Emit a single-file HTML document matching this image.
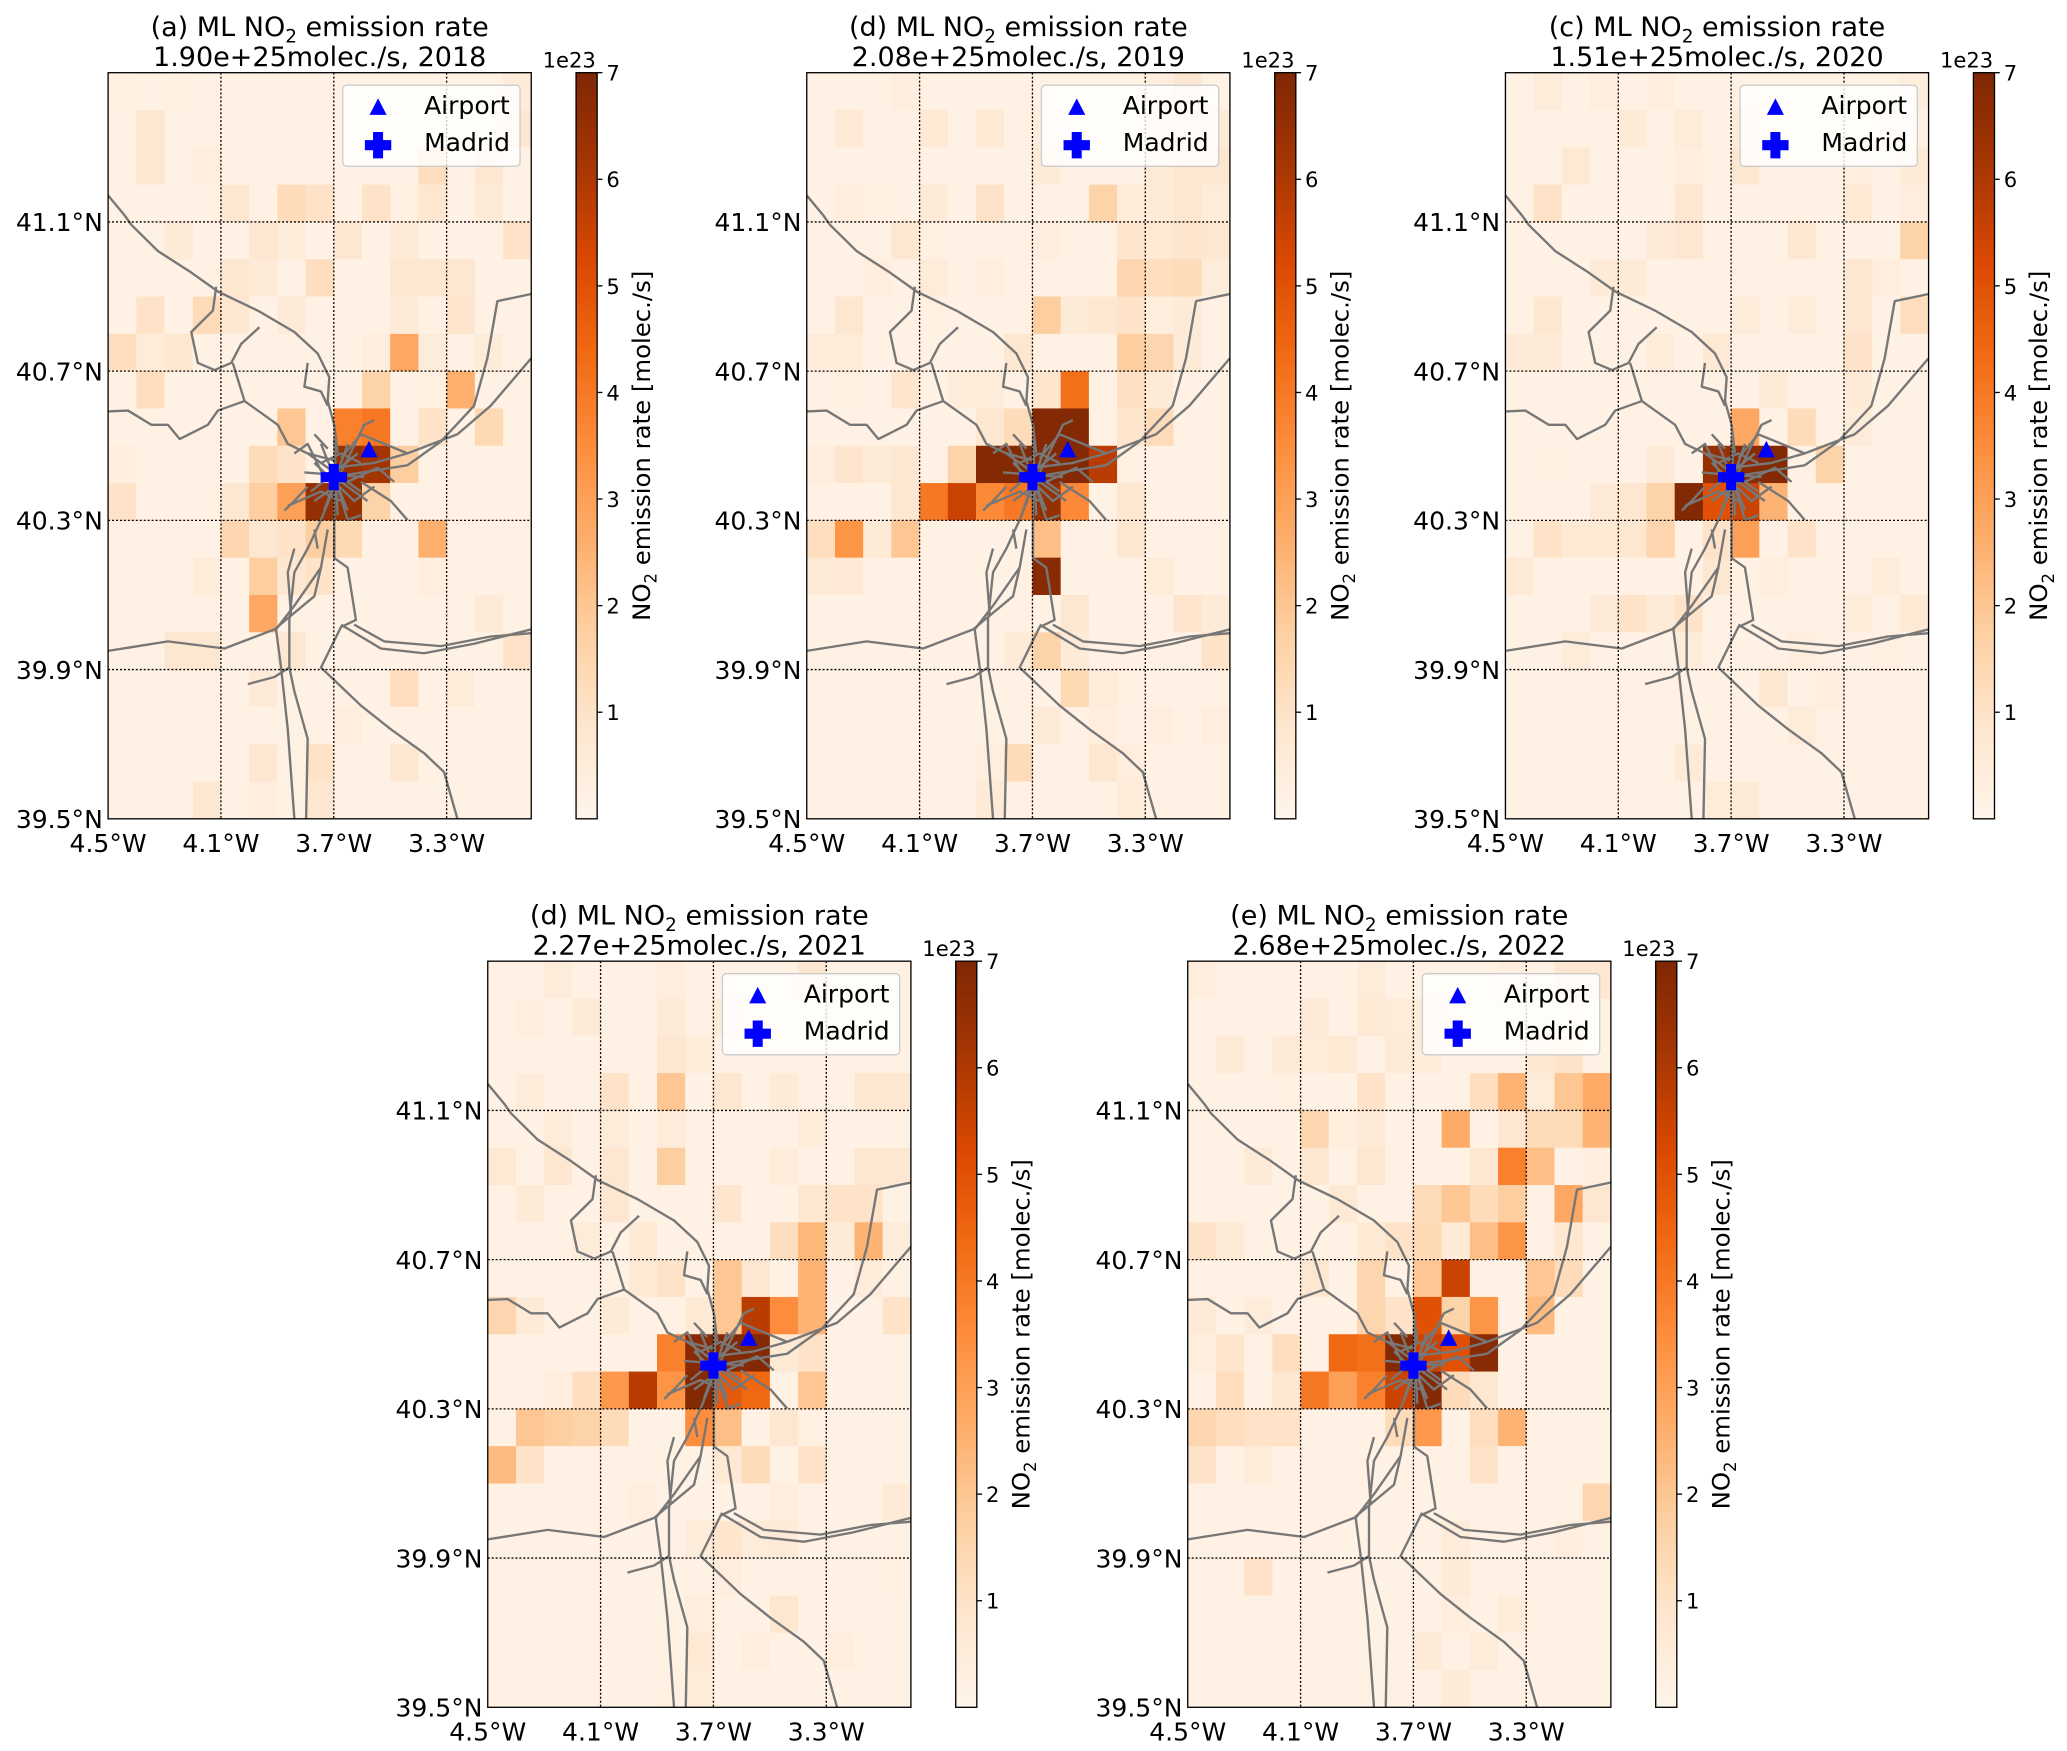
<!DOCTYPE html>
<html><head><meta charset="utf-8"><style>
html,body{margin:0;padding:0;background:#fff;}
svg{display:block;}
text{font-family:"DejaVu Sans","Liberation Sans",sans-serif;fill:#000;}
</style></head><body>
<svg id="fig" width="2067" height="1751" viewBox="0 0 1568 1328" xmlns="http://www.w3.org/2000/svg">
<defs>
<linearGradient id="cbgrad" x1="0" y1="1" x2="0" y2="0">
<stop offset="0" stop-color="#fff5eb"/><stop offset="0.125" stop-color="#fee6ce"/><stop offset="0.25" stop-color="#fdd0a2"/><stop offset="0.375" stop-color="#fdae6b"/><stop offset="0.5" stop-color="#fd8d3c"/><stop offset="0.625" stop-color="#f16913"/><stop offset="0.75" stop-color="#d94801"/><stop offset="0.875" stop-color="#a63603"/><stop offset="1" stop-color="#7f2704"/>
</linearGradient>
</defs>
</svg>
<script>
const panelTitles = ["(a)", "(d)", "(c)", "(d)", "(e)"];
const panelTotals = ["1.90e+25", "2.08e+25", "1.51e+25", "2.27e+25", "2.68e+25"];
const panelYears = ["2018", "2019", "2020", "2021", "2022"];
const lonTicks = [-4.5, -4.1, -3.7, -3.3];
const lonTickLabels = ["4.5°W", "4.1°W", "3.7°W", "3.3°W"];
const latTicks = [39.5, 39.9, 40.3, 40.7, 41.1];
const latTickLabels = ["39.5°N", "39.9°N", "40.3°N", "40.7°N", "41.1°N"];
const cbTicks = [1, 2, 3, 4, 5, 6, 7];
const cbTickLabels = ["1", "2", "3", "4", "5", "6", "7"];
const airport = [-3.575, 40.49];
const madrid = [-3.70, 40.416];

const grid2018 = [
[.3,.2,.3,.2,.2,.2,.2,.2,.2,.2,.2,.2,.2,.2,.5],
[.2,.8,.2,.2,.2,.2,.2,.2,.2,.2,.2,.2,.2,.2,.8],
[.2,.8,.2,.4,.2,.2,.2,.2,.2,.2,.2,1.2,.2,.8,.2],
[.2,.2,.2,.2,.8,.2,1.3,1.0,.2,1.0,.3,.8,.2,.6,.2],
[.2,.2,.6,.2,.2,.8,.5,.2,.8,.2,.6,.2,.2,.2,1.0],
[.2,.2,.2,.2,.8,.6,.2,1.2,.2,.2,.8,.8,.8,.2,.2],
[.2,1.0,.2,1.3,.8,.2,.6,.2,.2,.2,.6,.2,.9,.2,.2],
[1.2,.5,.8,.2,.2,.2,.2,.2,.2,.4,2.8,.5,.2,.5,.2],
[.2,1.2,.2,.2,.2,.2,.2,.2,.2,1.6,.2,.3,2.6,.2,.2],
[.2,.2,.2,.2,.2,.2,2.0,.2,3.8,4.0,.2,1.0,.2,1.4,.2],
[.4,.2,.2,.2,.2,1.3,1.0,.2,6.5,6.2,1.8,.2,.2,.2,.2],
[1.0,.2,.2,.2,.8,1.8,3.0,6.5,6.5,1.6,.2,.2,.2,.2,.2],
[.2,.2,.2,.2,1.5,.8,1.0,1.8,1.4,.2,.2,2.6,.2,.2,.2],
[.2,.2,.2,.5,.2,1.8,.8,1.0,.2,.2,.2,.4,.2,.2,.2],
[.2,.2,.2,.2,.2,2.8,.2,.2,.2,.2,.2,.2,.2,.6,.2],
[.2,.2,.8,.8,.2,.2,.8,.2,.2,.2,.2,.2,.2,.2,1.0],
[.2,.2,.2,.2,.2,.6,.2,.2,.2,.2,1.2,.2,.5,.2,.2],
[.2,.2,.2,.2,.2,.2,.2,.2,.4,.2,.2,.2,.2,.2,.2],
[.2,.2,.2,.2,.2,.8,.2,1.0,.2,.2,.8,.2,.2,.2,.2],
[.2,.2,.2,.8,.2,.4,.2,.8,.2,.2,.2,.2,.2,.2,.2]];
const grid2019 = [
[.2,.2,.2,.4,.2,.2,.2,.2,.2,.2,.2,.2,.4,.8,.2],
[.2,.7,.2,.2,.7,.2,.7,.2,.4,.2,.2,.2,.5,.8,.6],
[.2,.2,.2,.2,.2,.2,.2,.2,.6,.2,.2,.2,.6,.8,.8],
[.2,.4,.3,.2,.6,.2,1.0,.2,.2,.2,1.6,.5,.6,.8,.5],
[.2,.2,.2,.8,.3,.2,.2,.2,.4,.2,.2,.9,.7,.9,.8],
[.2,.2,.4,.2,.5,.2,.4,.2,.2,.2,.2,1.5,1.2,1.3,.5],
[.2,.8,.2,.2,.3,.2,.2,.2,1.8,.6,.8,1.0,.4,.6,.2],
[.5,.5,.2,.2,.2,.2,.2,.8,.2,.2,.2,1.8,1.5,.6,.2],
[.2,.3,.2,.9,.2,.5,.5,.2,.9,4.2,.2,1.1,.6,.2,.2],
[.2,.2,.2,.2,.2,.2,.8,1.3,6.9,6.9,.2,.9,1.3,.2,.2],
[.4,.9,.6,.8,.2,1.6,6.9,6.9,6.9,6.9,5.8,.3,.2,.2,.2],
[.2,.2,.2,.8,4.0,5.5,3.6,4.0,6.5,3.6,.2,.8,.2,.2,.2],
[1.2,3.3,.6,2.0,.2,.2,.2,.2,2.2,.2,.2,.8,.2,.2,.2],
[.6,.7,.2,.2,.2,.2,.2,.2,6.8,.2,.2,.2,.5,.2,.2],
[.2,.2,.2,.2,.2,.2,.2,.2,.2,.8,.2,.2,.2,.9,.6],
[.2,.2,.2,.2,.2,.2,.2,.6,1.6,.6,.2,.2,.2,.2,1.0],
[.2,.2,.2,.2,.2,.2,.2,.2,.2,1.4,.5,.3,.2,.2,.2],
[.2,.2,.2,.2,.2,.2,.2,.2,.6,.2,.4,.2,.4,.2,.4],
[.2,.2,.2,.2,.2,.2,.4,1.3,.2,.2,.8,.4,.2,.2,.2],
[.2,.2,.2,.2,.2,.2,.6,.2,.2,.2,.2,.5,.2,.2,.2]];
const grid2020 = [
[.2,.5,.2,.4,.2,.4,.2,.2,.2,.2,.2,.2,.2,.2,.4],
[.2,.2,.2,.2,.6,.2,.5,.2,.5,.2,.2,.2,.2,.4,.2],
[.2,.2,.7,.2,.2,.2,.4,.2,.8,.2,.2,.2,.4,.2,.6],
[.2,1.0,.2,.2,.2,.2,.8,.2,.2,.2,.2,.2,.7,.2,.4],
[.2,.2,.2,.2,.2,.6,.8,.2,.2,.2,.8,.2,.2,.2,1.6],
[.2,.2,.2,.6,.6,.2,.2,.2,.2,.2,.2,.2,.8,.4,.2],
[.2,.8,.2,.2,.2,.2,.2,.2,.5,.2,.5,.2,.8,.2,1.2],
[.6,.6,.2,.2,.2,.5,.2,.7,.2,.2,.2,.2,1.0,.2,.2],
[.2,.2,.2,.2,.2,.2,.2,.2,.2,.6,.2,.2,.6,.2,.2],
[.2,.2,.2,.2,.2,.2,.2,.2,2.8,.2,1.3,.2,.5,.2,.2],
[.2,.3,.2,.2,.2,.6,.2,6.5,6.8,6.9,.2,1.6,.2,.2,.2],
[.2,.2,.2,.6,.8,1.6,6.9,5.0,5.5,2.5,.2,.2,.2,.2,.2],
[.2,1.0,.7,.7,.8,1.5,.2,1.0,3.0,.2,1.0,.2,.2,.2,.2],
[.7,.2,.2,.2,.2,.2,.2,.8,.2,.4,.2,.2,.2,.5,.2],
[.2,.2,.2,.6,1.0,.6,1.0,.2,.2,.2,.2,.2,.5,.2,.7],
[.2,.2,.5,.2,.2,.2,.5,.2,.2,.2,.4,.2,.2,.3,.2],
[.2,.2,.2,.2,.2,.2,.2,.2,.2,.8,.2,.4,.2,.2,.2],
[.2,.2,.2,.2,.2,.2,.2,.2,.2,.2,.5,.2,.2,.2,.2],
[.2,.2,.2,.2,.2,.2,.6,.2,.2,.2,.2,.2,.2,.2,.2],
[.2,.2,.2,.2,.2,.2,.2,.5,.6,.2,.2,.2,.2,.2,.2]];
const grid2021 = [
[.2,.2,.5,.2,.2,.2,.4,.2,.2,.2,.2,.8,.2,.2,.2],
[.2,.4,.2,.6,.2,.2,.6,.2,.5,.2,.2,.2,.2,.2,.2],
[.2,.2,.2,.2,.2,.2,.8,.5,.2,.2,.2,.2,.2,.2,.2],
[.2,.5,.2,.2,1.0,.2,2.0,.2,.8,.2,.6,.2,.2,.8,.8],
[.2,.2,.5,.2,.5,.2,.5,.2,.2,.2,.2,.5,.2,.2,.2],
[.7,.2,.8,.2,.8,.2,1.8,.2,.2,.2,.5,.2,.2,.8,.8],
[.2,.6,.2,.2,.8,.2,.2,.2,.9,.2,.2,.8,1.0,1.0,.2],
[.2,.2,.2,.5,.2,.7,.2,.2,.2,.2,1.2,2.4,.6,2.5,.5],
[.2,.2,.2,.2,.2,.7,1.0,.2,2.0,.8,.2,2.5,.2,.5,.2],
[1.5,.6,.2,.2,.6,.2,.2,.7,2.0,5.8,3.5,2.5,.2,.2,1.0],
[.2,.2,.2,.2,.2,.2,3.8,6.8,6.9,6.9,.7,1.0,.2,.2,.2],
[.2,.2,.4,1.2,3.2,5.8,3.3,6.9,4.8,4.4,.2,2.0,.2,.2,.2],
[.2,2.0,1.8,1.6,1.3,.2,.2,3.5,2.2,.2,.8,.3,.2,.2,.2],
[2.3,1.0,.2,.2,.2,.2,.2,.2,.7,1.3,.2,1.0,.2,.2,.2],
[.2,.2,.2,.2,.2,.4,.2,.2,.2,.2,.4,.2,.2,.2,.6],
[.2,.2,.2,.2,.2,.2,.2,.5,.9,.5,.6,.2,.2,.2,.2],
[.2,.2,.2,.2,.2,.2,.2,.2,.4,.2,.2,.2,.2,.2,.3],
[.2,.2,.2,.2,.2,.2,.2,.4,.2,.2,.8,.2,.2,.2,.2],
[.2,.2,.2,.2,.2,.2,.2,.7,.2,.4,.2,.2,.4,.2,.2],
[.2,.2,.2,.2,.2,.2,.3,.5,.2,.2,.2,.2,.2,.2,.2]];
const grid2022 = [
[.4,.2,.2,.2,.2,.2,.5,.2,.2,.2,.2,.4,.2,.8,.8],
[.2,.2,.2,.2,.6,.2,.7,.5,.5,.2,.2,.2,.2,.2,.2],
[.2,.6,.2,.6,.5,.7,.2,.6,.5,.2,.2,.2,.8,1.0,.2],
[.2,.2,.2,.3,.2,.2,1.0,.2,.2,.2,1.2,2.5,.5,2.0,2.7],
[.2,.2,.2,.2,1.5,.4,.6,.2,.2,2.7,.2,.8,1.3,1.3,2.5],
[.2,.2,.6,.2,.8,.2,.8,.2,.2,.2,.8,3.8,2.2,.2,.4],
[.2,.2,.2,.2,.2,.7,.2,.2,1.3,2.0,1.3,1.8,.2,2.8,.8],
[1.0,.6,.2,.2,.2,.2,.7,1.0,1.4,.6,2.2,3.3,.2,.8,.2],
[.2,.2,.2,.2,.8,.2,1.5,.2,2.0,5.5,.2,.2,2.0,1.3,.2],
[.6,.2,.5,.2,.2,.2,1.5,1.0,5.0,1.6,3.3,.2,2.3,.2,.2],
[.4,.9,.2,1.2,.2,4.4,4.2,6.9,5.5,5.0,6.8,.2,.2,.2,.2],
[.2,1.2,.2,.8,4.0,3.0,3.8,5.5,6.9,1.3,.8,.2,.2,.2,.2],
[1.5,1.2,1.0,1.0,.2,.2,.2,1.3,3.2,.2,1.2,2.5,.2,.2,.2],
[1.0,.2,.5,.2,.2,.2,.2,.2,.2,.2,1.0,.2,.2,.2,.2],
[.2,.2,.2,.2,.2,.2,.2,.2,.2,.2,.2,.2,.2,.2,1.5],
[.2,.2,.2,.2,.2,.2,.2,.2,.2,.5,.2,.2,.2,.4,.2],
[.2,.2,1.0,.2,.2,.2,.2,.2,.2,.6,.2,.2,.2,.2,.2],
[.2,.2,.2,.2,.2,.2,.2,.2,.2,.4,.2,.5,.2,.2,.2],
[.2,.2,.2,.2,.2,.2,.2,.2,.6,.2,.5,.2,.2,.2,.2],
[.2,.2,.2,.2,.2,.2,.2,.2,.2,.6,.2,.2,.2,.2,.2]];
const grids = [grid2018, grid2019, grid2020, grid2021, grid2022];

// Map geometry (roads) in plot-fraction coordinates (not data)
const roads = [
[[0,258],[50,300],[70,320],[150,375],[250,420],[330,460],[450,500],[560,545],[630,590],[665,640],[660,690],[680,740],[690,800]],
[[0,712],[60,710],[130,740],[180,740],[215,770],[300,740],[330,710],[410,690],[450,710],[510,740],[540,780],[600,800],[680,815]],
[[325,450],[315,500],[250,545],[270,610],[320,625],[370,610],[400,570],[455,535]],
[[375,610],[410,690]],
[[600,610],[590,660],[640,670],[660,700]],
[[680,830],[800,820],[900,800],[1050,760],[1150,700],[1272,600]],
[[720,845],[900,825],[1000,775],[1100,700],[1140,600],[1170,480],[1272,465]],
[[680,870],[640,940],[600,1000],[560,1050],[545,1150],[545,1250],[560,1300],[600,1400],[595,1568]],
[[680,880],[680,1020],[720,1040],[745,1150],[700,1165],[640,1250],[760,1330],[850,1380],[950,1430],[1010,1470],[1050,1568]],
[[0,1215],[180,1195],[350,1210],[500,1170],[620,1100],[640,1040],[660,960]],
[[700,1160],[820,1210],[950,1220],[1100,1200],[1272,1170]],
[[740,1160],[830,1195],[1000,1205],[1150,1185],[1272,1178]],
[[545,1250],[500,1270],[420,1285]],
[[640,1040],[560,1120],[505,1170],[520,1250],[540,1380],[560,1568]],
[[560,1000],[540,1050],[550,1140]],
[[760,860],[850,900],[900,940]],
[[620,960],[630,1000]]
];
const tangle = [
[[600,800],[760,880]],[[610,880],[750,800]],[[640,780],[720,920]],[[720,780],[650,920]],
[[590,840],[770,850]],[[680,770],[690,930]],[[620,820],[740,900],[800,870]],[[540,910],[640,880],[700,900]],
[[700,810],[760,760],[900,800]],[[660,790],[620,760]],[[720,860],[810,830],[860,860]],[[600,870],[560,900],[530,920]],
[[690,870],[720,940],[760,930]],[[650,850],[600,780],[560,800]],[[700,840],[770,740],[800,730]],
[[620,900],[700,860],[780,900]],[[640,820],[700,800],[760,820]]
];

const NS = "http://www.w3.org/2000/svg";
const svg = document.getElementById("fig");
const PW = 321, PH = 566;
const panelX = [82, 612, 1142, 370, 901];
const panelY = [55, 55, 55, 729, 729];
const cmapStops = ["#fff5eb","#fee6ce","#fdd0a2","#fdae6b","#fd8d3c","#f16913","#d94801","#a63603","#7f2704"];
const VMAX = 7;

function hex(c){return [parseInt(c.slice(1,3),16),parseInt(c.slice(3,5),16),parseInt(c.slice(5,7),16)];}
function cmap(v){
  let t = Math.max(0, Math.min(1, v / VMAX)) * 8;
  let i = Math.min(7, Math.floor(t)), f = t - i;
  const a = hex(cmapStops[i]), b = hex(cmapStops[i+1]);
  return "rgb(" + a.map((x,k)=>Math.round(x + (b[k]-x)*f)).join(",") + ")";
}
function mk(tag, attrs, parent){
  const e = document.createElementNS(NS, tag);
  for (const k in attrs) e.setAttribute(k, attrs[k]);
  (parent || svg).appendChild(e);
  return e;
}

for (let p = 0; p < 5; p++) {
  const x0 = panelX[p], y0 = panelY[p];
  const xs = lon => x0 + (lon + 4.5) / 1.5 * PW;
  const ys = lat => y0 + (41.5 - lat) / 2.0 * PH;
  const fx = u => x0 + u / 1272 * PW;
  const fy = v => y0 + v / 1568 * PH;

  const g = mk("g", {});
  
  

  const t1 = mk("text", {x: x0 + PW/2, y: y0 - 28, "text-anchor": "middle", "font-size": 20.5}, g);
  
  
  t1.innerHTML = panelTitles[p] + ' ML NO<tspan font-size="14" dy="5">2</tspan><tspan dy="-5"> emission rate</tspan>';
  const t2 = mk("text", {x: x0 + PW/2, y: y0 - 5, "text-anchor": "middle", "font-size": 20.5}, g);
  
  
  t2.textContent = panelTotals[p] + "molec./s, " + panelYears[p];

  const cells = mk("g", {}, g);
  
  
  const grid = grids[p];
  for (let r = 0; r < grid.length; r++) {
    for (let c = 0; c < grid[r].length; c++) {
      const lonL = -4.5 + c * 0.1, latT = 41.5 - r * 0.1;
      const xa = xs(lonL), xb = xs(lonL + 0.1), ya = ys(latT), yb = ys(latT - 0.1);
      const rc = mk("rect", {x: xa, y: ya, width: xb - xa + 0.4, height: yb - ya + 0.4, fill: cmap(grid[r][c])}, cells);
      
      
    }
  }
  const rg = mk("g", {fill: "none", stroke: "#777777", "stroke-width": 1.8, "stroke-linejoin": "round"}, g);
  
  
  roads.concat(tangle).forEach(pts => {
    const pl = mk("polyline", {points: pts.map(q => fx(q[0]).toFixed(1) + "," + fy(q[1]).toFixed(1)).join(" ")}, rg);
    
    
  });
  const gg = mk("g", {stroke: "#000", "stroke-width": 1, "stroke-dasharray": "1.5,1.5"}, g);
  
  
  lonTicks.slice(1).forEach(l => mk("line", {x1: xs(l), x2: xs(l), y1: y0, y2: y0 + PH}, gg));
  latTicks.slice(1).forEach(l => mk("line", {x1: x0, x2: x0 + PW, y1: ys(l), y2: ys(l)}, gg));
  const bd = mk("rect", {x: x0, y: y0, width: PW, height: PH, fill: "none", stroke: "#000", "stroke-width": 1}, g);
  
  
  lonTicks.forEach((l, i) => {
    const tx = mk("text", {x: xs(l), y: y0 + PH + 25, "text-anchor": "middle", "font-size": 19}, g);
    
    
    tx.textContent = lonTickLabels[i];
  });
  latTicks.forEach((l, i) => {
    const ty = mk("text", {x: x0 - 4, y: ys(l) + 7, "text-anchor": "end", "font-size": 19}, g);
    
    
    ty.textContent = latTickLabels[i];
  });
  const ax = xs(airport[0]), ay = ys(airport[1]);
  const tri = mk("polygon", {points: `${ax-6.5},${ay+6} ${ax+6.5},${ay+6} ${ax},${ay-6.5}`, fill: "#0000ff"}, g);
  
  
  const mx = xs(madrid[0]), my = ys(madrid[1]);
  const plus = mk("path", {d: `M${mx-3.8},${my-10}h7.6v6.2h6.2v7.6h-6.2v6.2h-7.6v-6.2h-6.2v-7.6h6.2z`, fill: "#0000ff"}, g);
  
  
  const lg = mk("g", {}, g);
  
  
  mk("rect", {x: x0 + 178, y: y0 + 9.5, width: 134.5, height: 61.5, rx: 3, fill: "#fff", "fill-opacity": 0.8, stroke: "#cccccc", "stroke-width": 1}, lg);
  const lx = x0 + 204.8;
  mk("polygon", {points: `${lx-6.5},${y0+32} ${lx+6.5},${y0+32} ${lx},${y0+19.5}`, fill: "#0000ff"}, lg);
  const ly = y0 + 55;
  mk("path", {d: `M${lx-3.8},${ly-10}h7.6v6.2h6.2v7.6h-6.2v6.2h-7.6v-6.2h-6.2v-7.6h6.2z`, fill: "#0000ff"}, lg);
  const le1 = mk("text", {x: x0 + 239.7, y: y0 + 31.5, "font-size": 19}, lg);
  
  
  le1.textContent = "Airport";
  const le2 = mk("text", {x: x0 + 239.7, y: y0 + 59.5, "font-size": 19}, lg);
  
  
  le2.textContent = "Madrid";
  const cx = x0 + 355, cw = 16;
  const cb = mk("g", {}, g);
  
  
  mk("rect", {x: cx, y: y0, width: cw, height: PH, fill: "url(#cbgrad)", stroke: "#000", "stroke-width": 1}, cb);
  const cys = v => y0 + PH - v / VMAX * PH;
  cbTicks.forEach((v, i) => {
    mk("line", {x1: cx + cw, x2: cx + cw + 4, y1: cys(v), y2: cys(v), stroke: "#000", "stroke-width": 1}, cb);
    const ct = mk("text", {x: cx + cw + 7, y: cys(v) + 6, "font-size": 16}, cb);
    
    
    ct.textContent = cbTickLabels[i];
  });
  const ex = mk("text", {x: cx + cw - 1, y: y0 - 4, "text-anchor": "end", "font-size": 16}, cb);
  
  
  ex.textContent = "1e23";
  const lbx = cx + 56, lby = y0 + PH / 2;
  const cl = mk("text", {x: lbx, y: lby, "text-anchor": "middle", "font-size": 18.5, transform: `rotate(-90 ${lbx} ${lby})`}, cb);
  
  
  cl.innerHTML = 'NO<tspan font-size="12.5" dy="5">2</tspan><tspan dy="-5"> emission rate [molec./s]</tspan>';
}
</script>
</body></html>
